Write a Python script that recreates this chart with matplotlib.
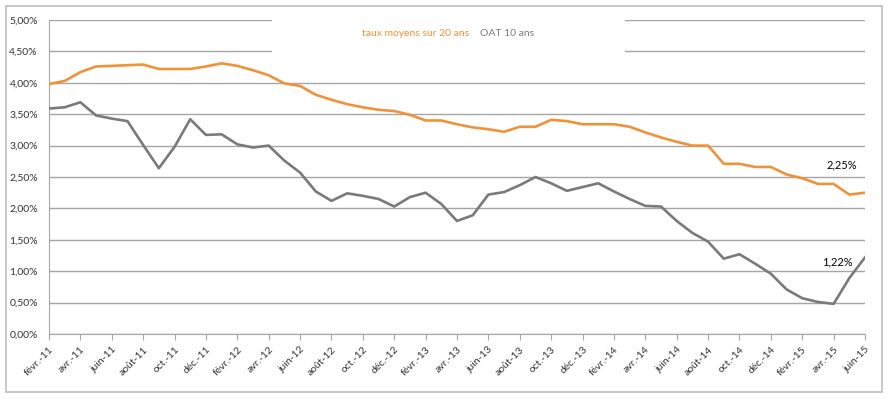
import matplotlib.pyplot as plt
from matplotlib.lines import Line2D
from matplotlib.patches import Rectangle
from matplotlib.ticker import FuncFormatter

plt.rcParams['font.family'] = ['Lato', 'DejaVu Sans']

# monthly points, févr-11 .. juin-15
MONTHS = ['févr.', 'mars', 'avr.', 'mai', 'juin', 'juil.', 'août', 'sept.',
          'oct.', 'nov.', 'déc.', 'janv.']
labels = []
for k in range(53):
    m = (1 + k) % 12
    y = 11 + (1 + k) // 12
    labels.append(f'{MONTHS[(m - 1) % 12]}-{y}')

taux_20 = [3.98, 4.03, 4.17, 4.26, 4.27, 4.28, 4.29, 4.22, 4.22, 4.22,
           4.26, 4.31, 4.27, 4.20, 4.12, 3.99, 3.95, 3.81, 3.73, 3.66,
           3.61, 3.57, 3.55, 3.49, 3.40, 3.40, 3.34, 3.29, 3.26, 3.22,
           3.30, 3.30, 3.41, 3.39, 3.34, 3.34, 3.34, 3.30, 3.21, 3.13,
           3.06, 3.00, 3.00, 2.71, 2.71, 2.66, 2.66, 2.54, 2.48, 2.39,
           2.39, 2.22, 2.25]
oat_10 = [3.59, 3.61, 3.69, 3.48, 3.43, 3.39, 3.01, 2.64, 2.98, 3.42,
          3.17, 3.18, 3.02, 2.97, 3.00, 2.76, 2.57, 2.27, 2.12, 2.24,
          2.20, 2.15, 2.03, 2.18, 2.25, 2.07, 1.80, 1.89, 2.22, 2.26,
          2.37, 2.50, 2.40, 2.28, 2.34, 2.40, 2.27, 2.15, 2.04, 2.03,
          1.80, 1.61, 1.47, 1.20, 1.27, 1.12, 0.96, 0.71, 0.57, 0.51,
          0.48, 0.89, 1.22]

ORANGE = '#F0923A'
GREY = '#7A7A7A'

fig = plt.figure(figsize=(8.89, 3.99), dpi=100)
ax = fig.add_axes([49 / 889, 65 / 399, 816 / 889, 314 / 399])

# outer chart frame
fig.patches.append(Rectangle((6 / 889, 7 / 399), 876 / 889, 386 / 399,
                             transform=fig.transFigure, fill=False,
                             edgecolor='#BFBFBF', linewidth=1.2))

x = list(range(len(labels)))
ax.plot(x, taux_20, color=ORANGE, linewidth=1.9, zorder=3)
ax.plot(x, oat_10, color=GREY, linewidth=1.9, zorder=3)

ax.set_xlim(0, len(labels) - 1)
ax.set_ylim(0, 5)
ax.set_yticks([i * 0.5 for i in range(11)])
ax.yaxis.set_major_formatter(FuncFormatter(lambda v, p: f'{v:.2f}%'.replace('.', ',')))
ax.set_xticks(x[::2])
ax.set_xticklabels(labels[::2], rotation=45, ha='right', rotation_mode='anchor',
                   fontsize=7.5, color='#333333')
ax.tick_params(axis='y', length=0, labelsize=7.5, labelcolor='#333333', pad=8)
ax.tick_params(axis='x', length=4, color='#A6A6A6', pad=4)

ax.set_axisbelow(True)
ax.grid(axis='y', color='#A6A6A6', linewidth=1)
for s in ['top', 'right']:
    ax.spines[s].set_visible(False)
for s in ['left', 'bottom']:
    ax.spines[s].set_color('#A6A6A6')

# white legend area hiding the upper gridlines
ax.add_patch(Rectangle((272 / 889, 1 - 62 / 399), 353 / 889, 50 / 399,
                       transform=fig.transFigure, facecolor='white',
                       edgecolor='none', zorder=1))

handles = [Line2D([], [], color=ORANGE), Line2D([], [], color=GREY)]
leg = ax.legend(handles, ['taux moyens sur 20 ans', 'OAT 10 ans'], ncol=2,
                loc='center', bbox_to_anchor=(448 / 889, 1 - 33 / 399),
                bbox_transform=fig.transFigure, frameon=False,
                handlelength=0, handletextpad=0, columnspacing=1.0,
                labelcolor='linecolor', fontsize=7.5)

ax.annotate('2,25%', (len(labels) - 1, taux_20[-1]), xytext=(-28, 20),
            textcoords='offset points', fontsize=8, ha='left', va='center')
ax.annotate('1,22%', (len(labels) - 1, oat_10[-1]), xytext=(-31, -3.5),
            textcoords='offset points', fontsize=8, ha='left', va='center')

fig.savefig('out.png', dpi=100)
